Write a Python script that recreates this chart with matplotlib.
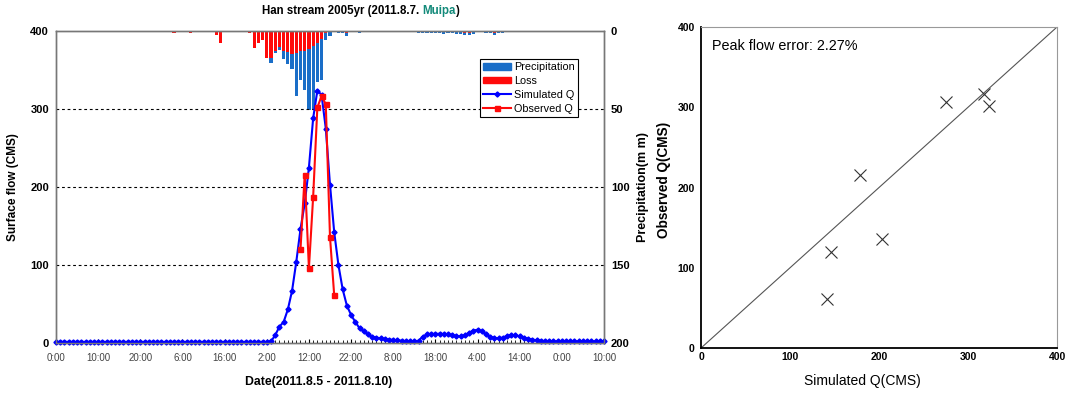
import numpy as np
import matplotlib
matplotlib.use("Agg")
import matplotlib.pyplot as plt
from matplotlib.lines import Line2D
from matplotlib.patches import Patch

plt.rcParams['font.family'] = ['Liberation Sans', 'DejaVu Sans']

# hourly series, 2011.8.5 0:00 -> 2011.8.10 10:00
hours = np.arange(131)
sim_q = ([1.5] * 51 +
         [2, 10, 21, 27, 43, 67, 104, 146, 179, 225, 288, 323.7, 318, 275, 203, 142,
          100, 69, 48, 36, 27, 19, 15, 11, 8, 7, 6, 5, 4.5, 4, 3.5, 3, 2.5, 2, 2, 3,
          8, 11, 12, 11.5, 12, 11.5, 11, 10, 9, 8.5, 10, 13, 16, 17, 15, 11, 8, 6.5,
          6, 7, 9, 10.5, 10, 8.5, 7, 5.5, 4.5, 3.5, 3, 2.5] +
         [2] * 14)

obs_hours = [58, 59, 60, 61, 62, 63, 64, 65, 66]
obs_q = [120, 216, 96, 187, 302, 316.5, 306, 136, 61]

# precipitation and loss (mm), hanging from the top
rain_hours = [28, 32, 33, 38, 39, 40, 43, 46, 47, 48, 49, 50, 51, 52, 53, 54, 55,
              56, 57, 58, 59, 60, 61, 62, 63, 64, 65, 67, 68, 69, 71, 72, 74, 75,
              76, 77, 78, 86, 87, 88, 89, 90, 91, 92, 93, 94, 95, 96, 97, 98, 99,
              102, 103, 104, 105, 106, 107, 110, 114]
rain_total = [1.5, 1.3, 0.7, 2.6, 7.5, 0.7, 0.7, 1.5, 10.7, 8, 6, 17, 20.5, 13.8,
              12, 18.2, 21, 24.5, 41.5, 31.5, 37.5, 50.5, 50, 32.5, 31.5, 5.8, 3.4,
              1, 1, 3, 0.6, 1.1, 0.6, 0.7, 0.6, 0.6, 0.6, 1.2, 1.5, 1.2, 1.3, 1.5,
              1.2, 1.6, 1.3, 1.5, 2, 1.6, 2.5, 2.5, 2.2, 1, 1.3, 2.5, 1.2, 1, 0.8,
              0.8, 0.8]
rain_loss = [1.5, 1.3, 0.7, 2.6, 7.5, 0.7, 0.7, 1.5, 10.7, 8, 6, 17, 17.5, 12.5,
             10, 12.5, 13.5, 15, 14, 12.5, 13, 11.5, 9.5, 7.5, 5, 1, 0.8, 0.5, 0.3,
             1.5, 0, 0, 0, 0, 0, 0, 0, 0, 0, 0, 0, 0, 0, 0, 0, 0, 0.6, 0.6, 1, 1,
             0.8, 0, 0, 1, 0, 0, 0, 0, 0]

time_labels = ['0:00', '10:00', '20:00', '6:00', '16:00', '2:00', '12:00', '22:00',
               '8:00', '18:00', '4:00', '14:00', '0:00', '10:00']

# scatter uses the matched sim/obs hours
pair_hours = [58, 59, 62, 63, 64, 65, 66]
sc_sim = [sim_q[h] for h in pair_hours]
sc_obs = [obs_q[obs_hours.index(h)] for h in pair_hours]

BLUE_BAR = '#1a6ec8'
RED = '#ff0a0a'

fig = plt.figure(figsize=(10.69, 3.93), dpi=100)

# ---- left: hydrograph ----
ax = fig.add_axes([0.0524, 0.1272, 0.5126, 0.7939])
ax2 = ax.twinx()
ax.set_zorder(ax2.get_zorder() + 1)
ax.patch.set_visible(False)

ax2.bar(rain_hours, rain_total, width=0.75, color=BLUE_BAR, linewidth=0)
ax2.bar(rain_hours, rain_loss, width=0.75, color=RED, linewidth=0)
ax2.set_ylim(200, 0)
ax2.set_yticks([0, 50, 100, 150, 200])

for yv in [100, 200, 300]:
    ax.axhline(yv, color='black', lw=0.8, ls=(0, (2.5, 2.5)), zorder=0)

ax.plot(hours, sim_q, color='#0000ff', marker='D', ms=2.6, lw=1.5, clip_on=False)
ax.plot(obs_hours, obs_q, color=RED, marker='s', ms=3.6, lw=1.5)
ax.set_xlim(0, 130)
ax.set_ylim(0, 400)
ax.set_yticks([0, 100, 200, 300, 400])
ax.set_xticks(np.arange(0, 131, 10))
ax.set_xticklabels(time_labels)
ax.set_xticks(hours, minor=True)
ax.tick_params(axis='x', which='major', direction='in', length=3, labelsize=7,
               pad=7, colors='black', labelcolor='#444444')
ax.tick_params(axis='x', which='minor', direction='in', length=2.5)
ax.tick_params(axis='y', length=0, labelsize=8, pad=5)
ax2.tick_params(axis='y', length=0, labelsize=8, pad=5)
for lab in ax.get_yticklabels() + ax2.get_yticklabels():
    lab.set_fontweight('bold')
for a in (ax, ax2):
    for s in a.spines.values():
        s.set_color('#777777')
        s.set_linewidth(1)

ax.set_ylabel('Surface flow (CMS)', fontsize=8.5, fontweight='bold')
ax.yaxis.set_label_coords(-0.068, 0.5)
ax2.set_ylabel('Precipitation(m m)', fontsize=9, fontweight='bold', rotation=90)
ax2.yaxis.set_label_coords(1.06, 0.5)
ax.set_xlabel('Date(2011.8.5 - 2011.8.10)', fontsize=8.8, fontweight='bold')
ax.xaxis.set_label_coords(0.48, -0.105)

handles = [Patch(color=BLUE_BAR), Patch(color=RED),
           Line2D([], [], color='#0000ff', marker='D', ms=2.6, lw=1.5),
           Line2D([], [], color=RED, marker='s', ms=3.6, lw=1.5)]
leg = ax.legend(handles, ['Precipitation', 'Loss', 'Simulated Q', 'Observed Q'],
                loc='upper right', bbox_to_anchor=(0.953, 0.91), fontsize=7.8,
                frameon=True, fancybox=False, framealpha=1, edgecolor='black',
                handlelength=2.6, handleheight=0.5, handletextpad=0.3,
                labelspacing=0.35, borderpad=0.3, borderaxespad=0)
leg.get_frame().set_linewidth(0.8)

# title with coloured station name
renderer = fig.canvas.get_renderer()
full = 'Han stream 2005yr (2011.8.7. Muipa)'
tfont = dict(fontsize=8.3, fontweight='bold', va='center', ha='left')
ty = 1 - 11 / 393
probe = [fig.text(0, ty, s, **tfont) for s in (full, 'Muipa)', ')')]
w_full, w_mu, w_par = [t.get_window_extent(renderer).width for t in probe]
for t in probe:
    t.remove()
start = 361 - w_full / 2
fig.text(start / 1069, ty, 'Han stream 2005yr (2011.8.7.', color='black', **tfont)
fig.text((start + w_full - w_mu) / 1069, ty, 'Muipa', color='#138a7a', **tfont)
fig.text((start + w_full - w_par) / 1069, ty, ')', color='black', **tfont)

# ---- right: scatter ----
axr = fig.add_axes([0.6558, 0.1145, 0.333, 0.8168])
axr.plot([0, 400], [0, 400], color='#555555', lw=0.8)
axr.plot(sc_sim, sc_obs, linestyle='none', marker='x', ms=9, mew=0.8, color='#333333')
axr.set_xlim(0, 400)
axr.set_ylim(0, 400)
axr.set_xticks([0, 100, 200, 300, 400])
axr.set_yticks([0, 100, 200, 300, 400])
axr.tick_params(axis='x', length=0, labelsize=7.5, pad=3)
axr.tick_params(axis='y', length=0, labelsize=7.5, pad=4.5)
for lab in axr.get_xticklabels() + axr.get_yticklabels():
    lab.set_fontweight('bold')
axr.spines['left'].set_linewidth(1.3)
axr.spines['bottom'].set_linewidth(1.3)
for sname in ('top', 'right'):
    axr.spines[sname].set_color('#999999')
    axr.spines[sname].set_linewidth(0.8)
axr.text(12, 376, 'Peak flow error: 2.27%', fontsize=10.4, va='center', ha='left')
axr.set_xlabel('Simulated Q(CMS)', fontsize=10)
axr.xaxis.set_label_coords(0.452, -0.08)
axr.set_ylabel('Observed Q(CMS)', fontsize=9.8, fontweight='bold')
axr.yaxis.set_label_coords(-0.085, 0.523)

fig.savefig('out.png', dpi=100)
